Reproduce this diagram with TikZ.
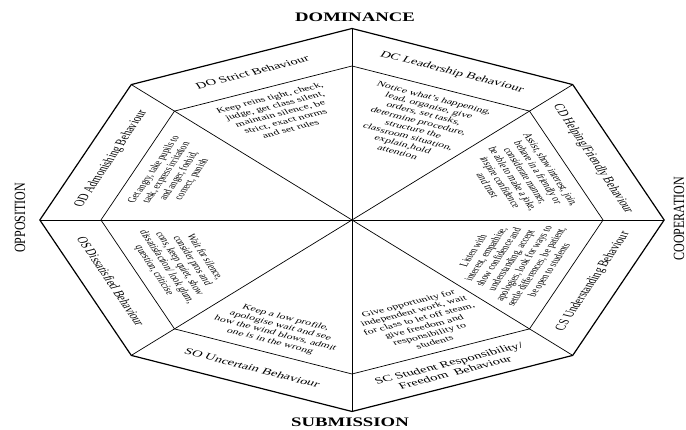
\documentclass[tikz,border=0pt]{standalone}
\usepackage{fontspec}
\setmainfont{Liberation Serif}
\usepackage{tikz}

\begin{document}
\begin{tikzpicture}[x=1pt, y=1pt, every node/.style={inner sep=0pt},
    rim/.style={line width=1.2pt, line join=miter},
    spoke/.style={line width=0.7pt},
    band/.style={font=\fontsize{9}{10}\selectfont, align=center, transform shape},
    act/.style={font=\fontsize{7.4}{8.4}\selectfont, align=center, transform shape},
    pole/.style={font=\fontsize{13}{14}\selectfont\bfseries, xscale=1.44},
    side/.style={font=\fontsize{12}{13}\selectfont, rotate=90, yscale=1.3}]
  \useasboundingbox (0,0) rectangle (686,430);
  \begin{scope}[shift={(352,210)}, xscale=1.63]
    \coordinate (o) at (0,0);
    \foreach \i in {0,...,7} {
      \coordinate (v\i) at (\i*45:191.5);
      \coordinate (w\i) at (\i*45:154);
    }
    \draw[rim] (v0) -- (v1) -- (v2) -- (v3) -- (v4) -- (v5) -- (v6) -- (v7) -- cycle;
    \draw[spoke] (w0) -- (w1) -- (w2) -- (w3) -- (w4) -- (w5) -- (w6) -- (w7) -- cycle;
    \foreach \i in {0,...,7} \draw[spoke] (o) -- (v\i);

    \node[band, rotate=22.5] (do) at (112.5:160) {DO Strict Behaviour};
    \node[band, rotate=-22.5] (dc) at (67.5:160) {DC Leadership Behaviour};
    \node[band, rotate=-67.5] (cd) at (22.5:160) {CD Helping/Friendly Behaviour};
    \node[band, rotate=67.5] (cs) at (-22.5:160) {CS Understanding Behaviour};
    \node[band, rotate=22.5] (sc) at (-67.5:160) {SC Student Responsibility/\\Freedom~~Behaviour};
    \node[band, rotate=-22.5] (so) at (-112.5:160) {SO Uncertain Behaviour};
    \node[band, rotate=-67.5] (os) at (-157.5:160) {OS Dissatisfied Behaviour};
    \node[band, rotate=67.5] (od) at (157.5:160) {OD Admonishing Behaviour};

    \node[act, rotate=22.5, anchor=north] (doText) at (112.5:135)
      {Keep reins tight, check,\\judge, get class silent,\\maintain silence, be\\strict, exact norms\\and set rules};
    \node[act, rotate=-22.5, anchor=north] (dcText) at (67.5:135)
      {Notice what's happening,\\lead, organise, give\\orders, set tasks,\\determine procedure,\\structure the\\classroom situation,\\explain,hold\\attention};
    \node[act, rotate=-67.5, anchor=north] (cdText) at (22.5:135)
      {Assist, show interest, join,\\behave in a friendly or\\considerate manner,\\be able to make a joke,\\inspire confidence\\and trust};
    \node[act, rotate=67.5, anchor=south] (csText) at (-22.5:135)
      {Listen with\\interest, empathise,\\show confidence and\\understanding, accept\\apologies, look for ways to\\settle differences, be patient,\\be open to students};
    \node[act, rotate=22.5, anchor=south] (scText) at (-67.5:135)
      {Give opportunity for\\independent work, wait\\for class to let off steam,\\give freedom and\\responsibility to\\students};
    \node[act, rotate=-22.5, anchor=south] (soText) at (-112.5:135)
      {Keep a low profile,\\apologise wait and see\\how the wind blows, admit\\one is in the wrong};
    \node[act, rotate=-67.5, anchor=south] (osText) at (-157.5:135)
      {Wait for silence,\\consider pros and\\cons, keep quiet, show\\dissatisfaction/ look glum,\\question, criticise};
    \node[act, rotate=67.5, anchor=north] (odText) at (157.5:135)
      {Get angry, take pupils to\\task, express irritation\\and anger, forbid,\\correct, punish};
  \end{scope}

  \node[pole] (dominance) at (355,413) {DOMINANCE};
  \node[pole] (submission) at (350,7.5) {SUBMISSION};
  \node[side] (opposition) at (20,212) {OPPOSITION};
  \node[side] (cooperation) at (679,211) {COOPERATION};
\end{tikzpicture}
\end{document}
